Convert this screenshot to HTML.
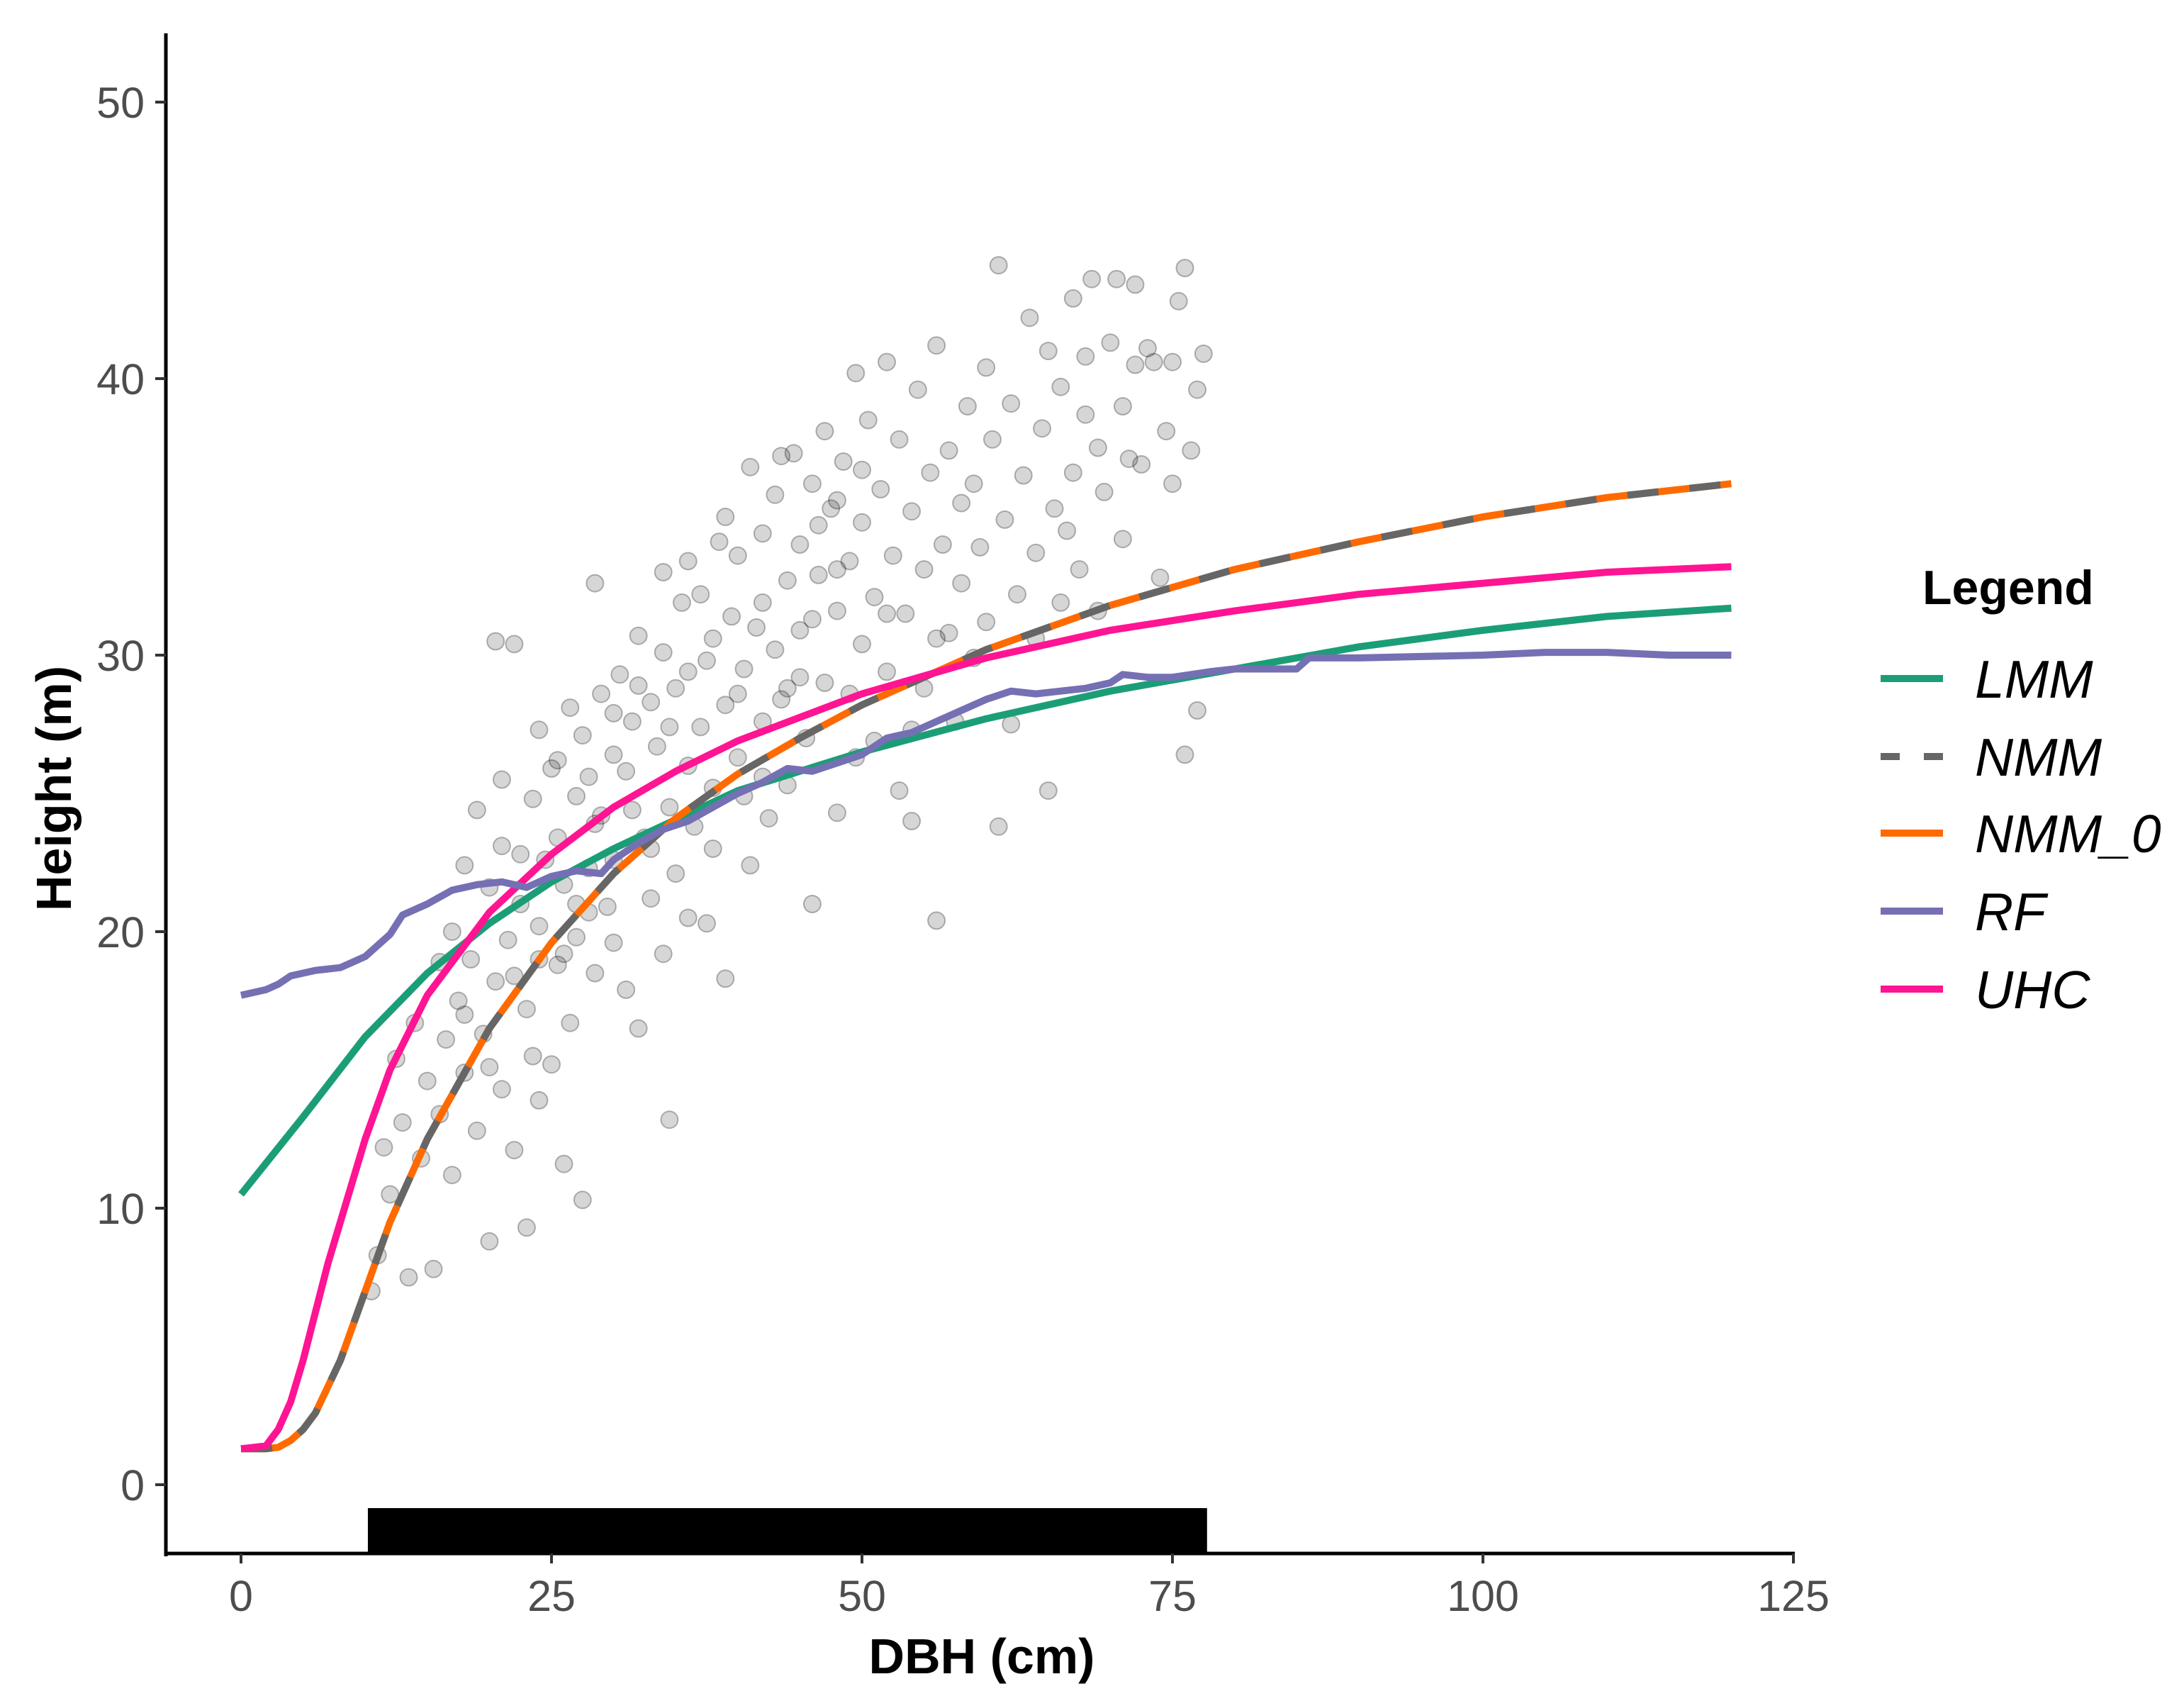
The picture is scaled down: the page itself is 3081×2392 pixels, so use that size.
<!DOCTYPE html>
<html><head><meta charset="utf-8"><style>
html,body{margin:0;padding:0;background:#fff;}
svg{display:block;font-family:"Liberation Sans",Arial,sans-serif;}
</style></head><body>
<svg id="chart" width="3081" height="2392" viewBox="0 0 3081 2392" xmlns="http://www.w3.org/2000/svg">
<g id="pts"></g>
<g id="rug"></g>
<g id="lines"></g>
<g id="axes"></g>
<text x="1385" y="2360" font-size="70" font-weight="bold" text-anchor="middle">DBH (cm)</text>
<text transform="translate(100,1112) rotate(-90)" font-size="70" font-weight="bold" text-anchor="middle">Height (m)</text>
<g id="legend">
<text x="2712" y="852" font-size="68" font-weight="bold">Legend</text>
</g>
</svg>
<script>
const xTicks=[0,25,50,75,100,125];
const yTicks=[0,10,20,30,40,50];
const lmmX=[0,5,10,15,20,25,30,40,50,60,70,80,90,100,110,120];
const lmmY=[10.5,13.3,16.2,18.5,20.3,21.8,23.0,25.1,26.5,27.7,28.7,29.5,30.3,30.9,31.4,31.7];
const nmmX=[0,2,3,4,5,6,8,10,12,15,20,25,30,35,40,45,50,55,60,70,80,90,100,110,120];
const nmmY=[1.3,1.3,1.35,1.6,2.0,2.6,4.5,7,9.5,12.5,16.5,19.6,22.1,24.1,25.7,27.0,28.2,29.2,30.2,31.8,33.1,34.1,35.0,35.7,36.2];
const uhcX=[0,2,3,4,5,7,10,12,15,20,25,30,35,40,50,60,70,80,90,100,110,120];
const uhcY=[1.3,1.4,2.0,3.0,4.5,8,12.5,15,17.7,20.7,22.8,24.5,25.8,26.9,28.6,29.9,30.9,31.6,32.2,32.6,33.0,33.2];
const rfX=[0,2,3,4,6,8,10,12,13,15,17,19,21,23,25,27,29,30,32,34,36,38,40,42,44,46,48,50,52,54,56,58,60,62,64,66,68,70,71,73,75,78,80,85,86,90,100,105,110,115,120];
const rfY=[17.7,17.9,18.1,18.4,18.6,18.7,19.1,19.9,20.6,21.0,21.5,21.7,21.8,21.6,22.0,22.2,22.1,22.6,23.2,23.7,24.0,24.5,25.0,25.4,25.9,25.8,26.1,26.4,27.0,27.2,27.6,28.0,28.4,28.7,28.6,28.7,28.8,29.0,29.3,29.2,29.2,29.4,29.5,29.5,29.9,29.9,30.0,30.1,30.1,30.0,30.0];
const ptX=[
10.5,11,11.5,12,12.5,13,13.5,14,14.5,15,
15.5,16,16,16.5,17,17,17.5,18,18,18.5,
19,19,19.5,20,20,20.5,20.5,21,21,21.5,
22,22,22.5,23,23,23.5,23.5,24,24,24.5,
25,25,25.5,25.5,26,26,26.5,26.5,27,27,
27.5,27.5,28,28,28.5,28.5,29,29,29.5,30,
30,30.5,31,31,31.5,32,32,32.5,33,33,
33.5,34,34,34.5,34.5,35,35,35.5,36,36,
36.5,37,37,37.5,38,38,38.5,39,39,39.5,
40,40,40.5,41,41,41.5,42,42,42.5,43,
43,43.5,44,44,44.5,45,45,45.5,46,46,
46.5,47,47,47.5,48,48,48.5,49,49,49.5,
50,50,50.5,51,51,51.5,52,52,52.5,53,
53,53.5,54,54,54.5,55,55,55.5,56,56,
56.5,57,57,57.5,58,58,58.5,59,59,59.5,
60,60,60.5,61,61,61.5,62,62,62.5,63,
63.5,64,64,64.5,65,65,65.5,66,66,66.5,
67,67,67.5,68,68,68.5,69,69,69.5,70,
70.5,71,71,71.5,72,72,72.5,73,73.5,74,
74.5,75,75,75.5,76,76,76.5,77,77,77.5,
21,22.5,24,25.5,27,28.5,30,31.5,33,34.5,
36,37.5,39,40.5,42,43.5,45,46.5,48,49.5,
18,20,22,24,26,28,30,32,34,36,
38,40,42,44,46,48,50,52,54,56];
const ptY=[
7.0,8.3,12.2,10.5,15.4,13.1,7.5,16.7,11.8,14.6,
7.8,13.4,18.9,16.1,11.2,20.0,17.5,14.9,22.4,19.0,
12.8,24.4,16.3,8.8,21.6,18.2,30.5,14.3,23.1,19.7,
12.1,30.4,21.0,9.3,17.2,24.8,15.5,20.2,27.3,22.6,
15.2,25.9,18.8,23.4,11.6,21.7,28.1,16.7,24.9,19.8,
10.3,27.1,22.3,25.6,32.6,18.5,24.2,28.6,20.9,26.4,
22.6,29.3,17.9,25.8,27.6,16.5,30.7,23.4,28.3,21.2,
26.7,30.1,19.2,13.2,24.5,28.8,22.1,31.9,26.0,29.4,
23.8,32.2,27.4,20.3,30.6,25.2,34.1,28.2,18.3,31.4,
26.3,33.6,29.5,22.4,36.8,31.0,27.6,34.4,24.1,30.2,
35.8,28.4,32.7,25.3,37.3,30.9,34.0,27.0,36.2,21.0,
32.9,38.1,29.0,35.3,31.6,24.3,37.0,33.4,28.6,40.2,
34.8,30.4,38.5,32.1,26.9,36.0,40.6,29.4,33.6,25.1,
37.8,31.5,35.2,24.0,39.6,33.1,28.8,36.6,20.4,41.2,
34.0,30.8,37.4,27.6,35.5,32.6,39.0,29.9,36.2,33.9,
40.4,31.2,37.8,44.1,23.8,34.9,39.1,27.5,32.2,36.5,
42.2,33.7,30.6,38.2,25.1,41.0,35.3,31.9,39.7,34.5,
42.9,36.6,33.1,40.8,38.7,43.6,31.6,37.5,35.9,41.3,
43.6,34.2,39.0,37.1,43.4,40.5,36.9,41.1,40.6,32.8,
38.1,40.6,36.2,42.8,44.0,26.4,37.4,28.0,39.6,40.9,
25.5,22.8,19.0,26.2,21.0,23.9,27.9,24.4,23.0,27.4,
33.4,29.8,35.0,24.9,31.9,37.2,29.2,34.7,33.1,26.3,
17.0,15.1,18.4,13.9,19.2,20.7,19.6,28.9,33.0,20.5,
23.0,28.6,25.6,28.8,31.3,35.6,36.7,31.5,27.3,30.6];
const series=[
 {name:'LMM',xs:lmmX,ys:lmmY,color:'#1b9e77',dash:null},
 {name:'NMM_0',xs:nmmX,ys:nmmY,color:'#ff6a00',dash:null},
 {name:'NMM',xs:nmmX,ys:nmmY,color:'#666666',dash:'44 44'},
 {name:'UHC',xs:uhcX,ys:uhcY,color:'#ff1493',dash:null},
 {name:'RF',xs:rfX,ys:rfY,color:'#7570b3',dash:null}
];
const NS='http://www.w3.org/2000/svg';
function X(v){return 340+v*17.52;}
function Y(v){return 2094-v*39.0;}
function mk(t,a,p){const e=document.createElementNS(NS,t);for(const k in a)e.setAttribute(k,a[k]);p.appendChild(e);return e;}
const pts=document.getElementById('pts');
const nPts=Math.min(ptX.length,ptY.length);
for(let i=0;i<nPts;i++){
 const c=mk('circle',{cx:X(ptX[i]),cy:Y(ptY[i]),r:12,fill:'rgba(0,0,0,0.16)',stroke:'rgba(0,0,0,0.28)','stroke-width':2},pts);
 
 
}
const rug=document.getElementById('rug');
for(let i=0;i<nPts;i++){
 const l=mk('line',{x1:X(ptX[i]),x2:X(ptX[i]),y1:2127,y2:2191,stroke:'#000','stroke-width':10},rug);
 
 
}
const lines=document.getElementById('lines');
for(const s of series){
 let d='';for(let i=0;i<s.xs.length;i++)d+=(i?'L':'M')+X(s.xs[i]).toFixed(1)+','+Y(s.ys[i]).toFixed(1);
 const a={d:d,fill:'none',stroke:s.color,'stroke-width':10,'stroke-linejoin':'round'};
 if(s.dash)a['stroke-dasharray']=s.dash;
 const p=mk('path',a,lines);
 
 
}
const ax=document.getElementById('axes');
mk('line',{x1:234,y1:47,x2:234,y2:2195,stroke:'#000','stroke-width':5},ax);
mk('line',{x1:232,y1:2191,x2:2532,y2:2191,stroke:'#000','stroke-width':5},ax);
for(const t of xTicks){
 mk('line',{x1:X(t),x2:X(t),y1:2191,y2:2205,stroke:'#333','stroke-width':4},ax);
 const tx=mk('text',{x:X(t),y:2272,'font-size':61,fill:'#4d4d4d','text-anchor':'middle'},ax);tx.textContent=t;
 
 
}
for(const t of yTicks){
 mk('line',{x1:219,x2:234,y1:Y(t),y2:Y(t),stroke:'#333','stroke-width':4},ax);
 const tx=mk('text',{x:204,y:Y(t)+22,'font-size':61,fill:'#4d4d4d','text-anchor':'end'},ax);tx.textContent=t;
 
 
}
const lg=document.getElementById('legend');
const ly=[957,1067,1175,1285,1395];
const legSeries=[{n:'LMM',c:'#1b9e77'},{n:'NMM',c:'#666666'},{n:'NMM_0',c:'#ff6a00'},{n:'RF',c:'#7570b3'},{n:'UHC',c:'#ff1493'}];
legSeries.forEach((s,i)=>{
 const g=mk('g',{},lg);
 
 
 if(s.n==='NMM'){mk('line',{x1:2653,x2:2680,y1:ly[i],y2:ly[i],stroke:s.c,'stroke-width':10},g);mk('line',{x1:2714,x2:2741,y1:ly[i],y2:ly[i],stroke:s.c,'stroke-width':10},g);}
 else mk('line',{x1:2653,x2:2741,y1:ly[i],y2:ly[i],stroke:s.c,'stroke-width':10},g);
 const t=mk('text',{x:2786,y:ly[i]+27,'font-size':75,'font-style':'italic'},g);t.textContent=s.n;
});
</script>
</body></html>
